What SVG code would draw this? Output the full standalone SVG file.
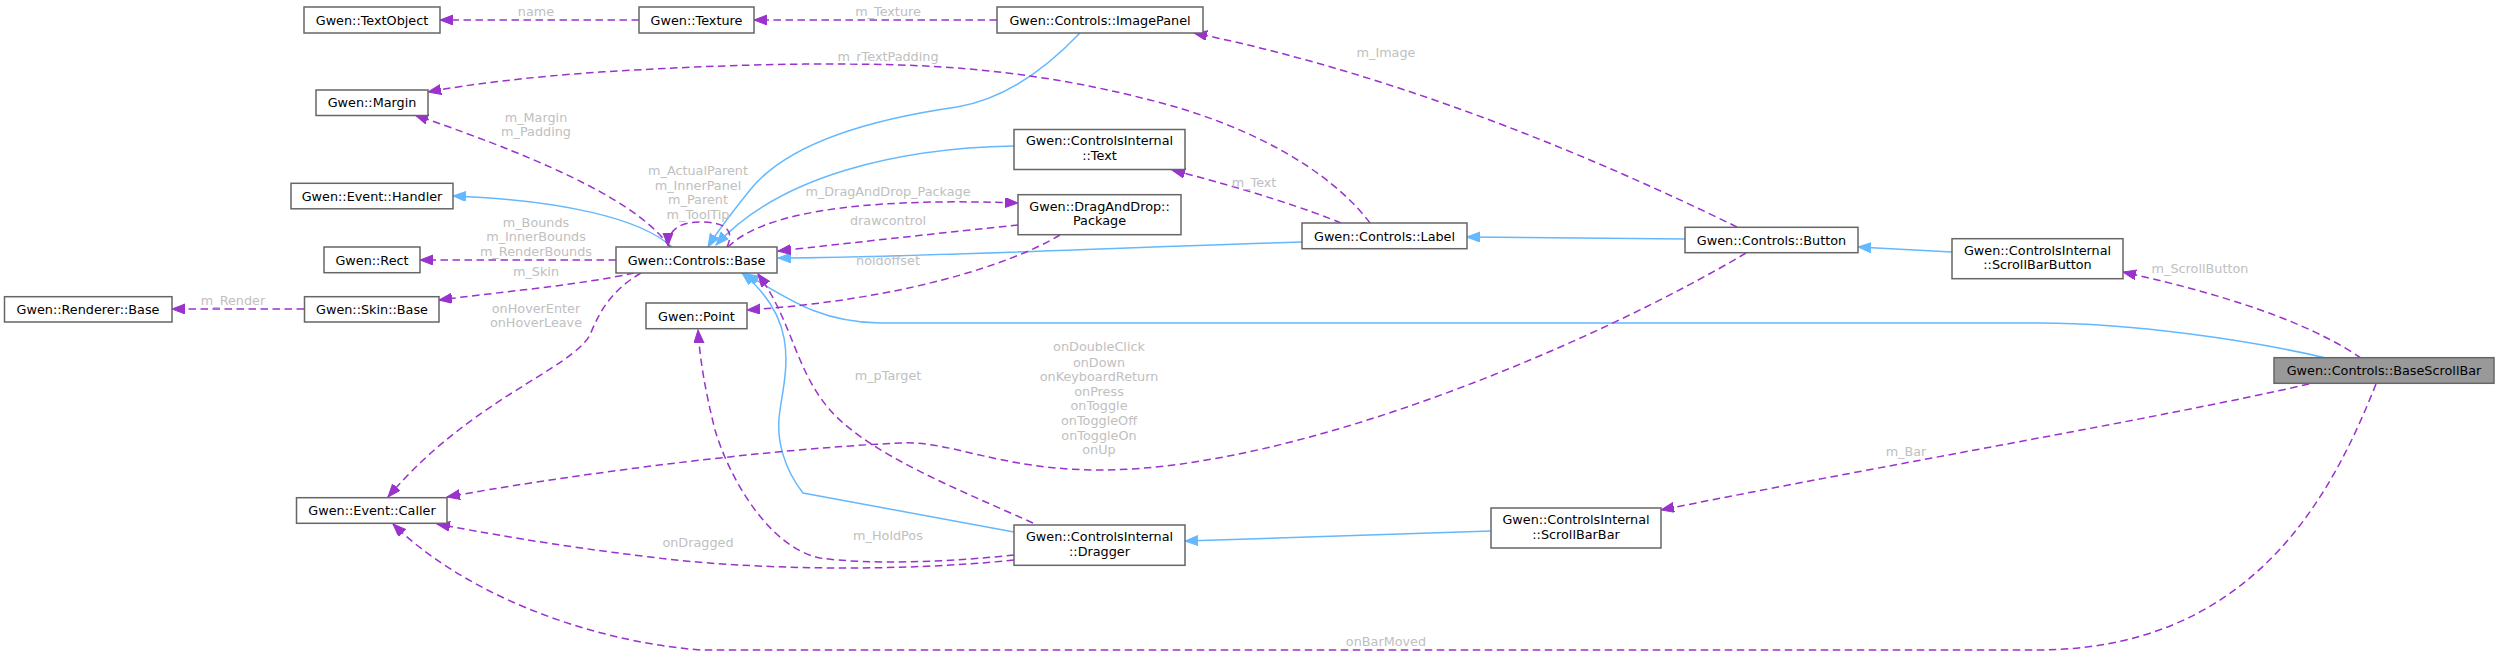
<svg xmlns="http://www.w3.org/2000/svg" width="2499" height="656" viewBox="0 0 2499 656">
<defs>
<style>
.n rect{fill:#ffffff;stroke:#666666;stroke-width:1.5}
.n.root rect{fill:#999999}
.n text{font-family:"DejaVu Sans",sans-serif;font-size:12.8px;fill:#000000;text-anchor:middle}
.inh{fill:none;stroke:#63b8ff;stroke-width:1.5}
.use{fill:none;stroke:#9a32cd;stroke-width:1.5;stroke-dasharray:7.5,4.5}
.lbl{font-family:"DejaVu Sans",sans-serif;font-size:12.8px;fill:#c0c0c0;text-anchor:middle}
</style>
<marker id="ab" markerUnits="userSpaceOnUse" markerWidth="14" markerHeight="11" refX="13" refY="5" orient="auto"><path d="M0,0 L13,5 L0,10 z" fill="#63b8ff" stroke="#63b8ff"/></marker>
<marker id="ap" markerUnits="userSpaceOnUse" markerWidth="14" markerHeight="11" refX="13" refY="5" orient="auto"><path d="M0,0 L13,5 L0,10 z" fill="#9a32cd" stroke="#9a32cd"/></marker>
</defs>
<rect width="2499" height="656" fill="#ffffff"/>
<g id="edges">
<!-- inheritance -->
<path class="inh" marker-end="url(#ab)" d="M672,247 C640,218 560,200 453,196"/>
<path class="inh" marker-end="url(#ab)" d="M1080,33 C1040,75 1000,100 957,107 C880,118 790,140 750,190 C730,215 715,235 708,247"/>
<path class="inh" marker-end="url(#ab)" d="M1014,146 C900,148 780,175 716,245"/>
<path class="inh" marker-end="url(#ab)" d="M1302,242 C1100,248 900,258 778,258"/>
<path class="inh" marker-end="url(#ab)" d="M1685,239 L1467,237"/>
<path class="inh" marker-end="url(#ab)" d="M1952,252 L1858,247"/>
<path class="inh" marker-end="url(#ab)" d="M2326,358 C2250,340 2130,323 2040,323 L880,323 C820,322 790,300 746,274"/>
<path class="inh" marker-end="url(#ab)" d="M1014,532 L803,493 C785,470 775,440 780,410 C786,370 800,320 742,273"/>
<path class="inh" marker-end="url(#ab)" d="M1491,531 L1185,541"/>
<!-- usage -->
<path class="use" marker-end="url(#ap)" d="M639,20 L440,20"/>
<path class="use" marker-end="url(#ap)" d="M997,20 L754,20"/>
<path class="use" marker-end="url(#ap)" d="M1737,227 C1600,160 1400,75 1194,33"/>
<path class="use" marker-end="url(#ap)" d="M1370,223 C1330,170 1250,125 1150,100 C1080,82 1000,68 900,65 C800,62 700,66 600,72 C530,77 470,84 428,92"/>
<path class="use" marker-end="url(#ap)" d="M1341,223 C1310,210 1250,190 1172,170"/>
<path class="use" marker-end="url(#ap)" d="M727,247 C736,228 722,222 700,222 C680,222 668,230 668,246"/>
<path class="use" marker-end="url(#ap)" d="M670,247 C640,205 560,165 415,115"/>
<path class="use" marker-end="url(#ap)" d="M728,247 C760,215 850,197 1018,203"/>
<path class="use" marker-end="url(#ap)" d="M1018,225 C950,232 850,243 778,251"/>
<path class="use" marker-end="url(#ap)" d="M1060,235 C1010,265 900,300 747,310"/>
<path class="use" marker-end="url(#ap)" d="M616,260 L420,260"/>
<path class="use" marker-end="url(#ap)" d="M634,273 C580,285 500,292 439,300"/>
<path class="use" marker-end="url(#ap)" d="M304,309 L172,309"/>
<path class="use" marker-end="url(#ap)" d="M641,273 C612,290 600,310 590,335 C570,370 470,400 388,497"/>
<path class="use" marker-end="url(#ap)" d="M1746,253 C1600,340 1300,470 1100,470 C1000,470 950,440 900,443 C750,450 550,478 447,497"/>
<path class="use" marker-end="url(#ap)" d="M1033,523 C960,490 870,455 830,410 C795,370 792,320 758,274"/>
<path class="use" marker-end="url(#ap)" d="M1014,555 C950,562 870,565 820,558 C770,548 730,480 715,430 C705,390 700,360 698,330"/>
<path class="use" marker-end="url(#ap)" d="M1014,560 C900,572 750,570 650,557 C550,545 480,532 437,524"/>
<path class="use" marker-end="url(#ap)" d="M2309,384 C2150,420 1900,462 1661,510"/>
<path class="use" marker-end="url(#ap)" d="M2361,358 C2320,330 2250,300 2123,272"/>
<path class="use" marker-end="url(#ap)" d="M2376,384 C2330,500 2250,650 2036,650 L700,650 C580,640 460,590 393,524"/>
<!-- labels -->
<text class="lbl" x="536" y="16">name</text>
<text class="lbl" x="888" y="16">m_Texture</text>
<text class="lbl" x="1386" y="57">m_Image</text>
<text class="lbl" x="888" y="61">m_rTextPadding</text>
<text class="lbl" x="536" y="121.5">m_Margin</text>
<text class="lbl" x="536" y="136">m_Padding</text>
<text class="lbl" x="698" y="174.5">m_ActualParent</text>
<text class="lbl" x="698" y="189.5">m_InnerPanel</text>
<text class="lbl" x="698" y="204">m_Parent</text>
<text class="lbl" x="698" y="218.5">m_ToolTip</text>
<text class="lbl" x="1254" y="186.5">m_Text</text>
<text class="lbl" x="888" y="195.5">m_DragAndDrop_Package</text>
<text class="lbl" x="888" y="224.5">drawcontrol</text>
<text class="lbl" x="888" y="264.5">holdoffset</text>
<text class="lbl" x="536" y="226.5">m_Bounds</text>
<text class="lbl" x="536" y="241">m_InnerBounds</text>
<text class="lbl" x="536" y="255.5">m_RenderBounds</text>
<text class="lbl" x="536" y="275.5">m_Skin</text>
<text class="lbl" x="233" y="305">m_Render</text>
<text class="lbl" x="536" y="313">onHoverEnter</text>
<text class="lbl" x="536" y="327">onHoverLeave</text>
<text class="lbl" x="2200" y="273">m_ScrollButton</text>
<text class="lbl" x="1099" y="351">onDoubleClick</text>
<text class="lbl" x="1099" y="366.5">onDown</text>
<text class="lbl" x="1099" y="381">onKeyboardReturn</text>
<text class="lbl" x="1099" y="395.5">onPress</text>
<text class="lbl" x="1099" y="410">onToggle</text>
<text class="lbl" x="1099" y="424.5">onToggleOff</text>
<text class="lbl" x="1099" y="439.5">onToggleOn</text>
<text class="lbl" x="1099" y="454">onUp</text>
<text class="lbl" x="888" y="379.5">m_pTarget</text>
<text class="lbl" x="1906" y="456">m_Bar</text>
<text class="lbl" x="888" y="539.5">m_HoldPos</text>
<text class="lbl" x="698" y="547">onDragged</text>
<text class="lbl" x="1386" y="646">onBarMoved</text>
</g>
<g id="TextObject" class="n"><rect x="304" y="7" width="136" height="26"/><text x="372" y="24.6">Gwen::TextObject</text></g>
<g id="Texture" class="n"><rect x="639" y="7" width="115" height="26"/><text x="696.5" y="24.6">Gwen::Texture</text></g>
<g id="ImagePanel" class="n"><rect x="997" y="7" width="206" height="26"/><text x="1100" y="24.6">Gwen::Controls::ImagePanel</text></g>
<g id="Margin" class="n"><rect x="316" y="90" width="112" height="25.5"/><text x="372" y="107.3">Gwen::Margin</text></g>
<g id="Text" class="n"><rect x="1014" y="129.5" width="171" height="40"/><text x="1099.5" y="145.3">Gwen::ControlsInternal</text><text x="1099.5" y="160">::Text</text></g>
<g id="Handler" class="n"><rect x="291" y="183.3" width="162" height="25.5"/><text x="372" y="200.6">Gwen::Event::Handler</text></g>
<g id="Package" class="n"><rect x="1018" y="194.7" width="163" height="40"/><text x="1099.5" y="211.3">Gwen::DragAndDrop::</text><text x="1099.5" y="225.3">Package</text></g>
<g id="Label" class="n"><rect x="1302" y="223" width="165" height="25.7"/><text x="1384.5" y="240.6">Gwen::Controls::Label</text></g>
<g id="Button" class="n"><rect x="1685" y="227.3" width="173" height="25.4"/><text x="1771.5" y="244.6">Gwen::Controls::Button</text></g>
<g id="ScrollBarButton" class="n"><rect x="1952" y="238.7" width="171" height="40"/><text x="2037.5" y="255.3">Gwen::ControlsInternal</text><text x="2037.5" y="269.3">::ScrollBarButton</text></g>
<g id="Rect" class="n"><rect x="324" y="247" width="96" height="25.7"/><text x="372" y="264.6">Gwen::Rect</text></g>
<g id="ControlsBase" class="n"><rect x="616" y="247" width="161" height="26"/><text x="696.5" y="264.6">Gwen::Controls::Base</text></g>
<g id="RendererBase" class="n"><rect x="4.5" y="296.7" width="167.5" height="25.3"/><text x="88" y="313.9">Gwen::Renderer::Base</text></g>
<g id="SkinBase" class="n"><rect x="304.5" y="296.7" width="134.5" height="25.3"/><text x="372" y="313.9">Gwen::Skin::Base</text></g>
<g id="Point" class="n"><rect x="646" y="303" width="101" height="25.7"/><text x="696.5" y="320.6">Gwen::Point</text></g>
<g id="BaseScrollBar" class="n root"><rect x="2274" y="357.7" width="220" height="25.6"/><text x="2384" y="375">Gwen::Controls::BaseScrollBar</text></g>
<g id="Caller" class="n"><rect x="296.5" y="497.7" width="150.5" height="25.6"/><text x="372" y="515">Gwen::Event::Caller</text></g>
<g id="Dragger" class="n"><rect x="1014" y="525" width="171" height="40.3"/><text x="1099.5" y="541.3">Gwen::ControlsInternal</text><text x="1099.5" y="556.3">::Dragger</text></g>
<g id="ScrollBarBar" class="n"><rect x="1491" y="508" width="170" height="40"/><text x="1576" y="524">Gwen::ControlsInternal</text><text x="1576" y="538.6">::ScrollBarBar</text></g>
</svg>
